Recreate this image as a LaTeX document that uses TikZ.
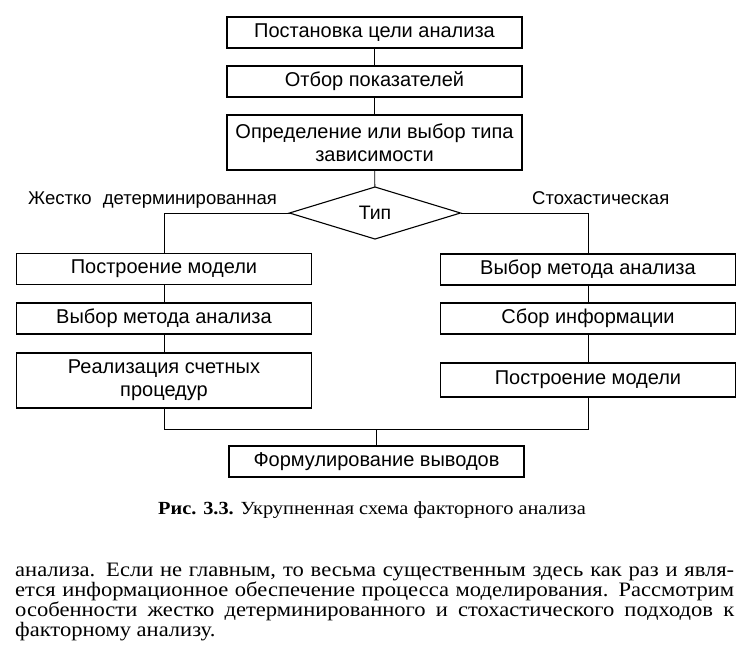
\documentclass[tikz,border=0pt]{standalone}
\usepackage{fontspec}
\setmainfont{Liberation Sans}
\newfontfamily\bookfont{Liberation Serif}[FakeStretch=1.1]
\usetikzlibrary{shapes.geometric}

\newcommand{\fullline}[1]{\hbox to 719pt{#1}}

\begin{document}
\begin{tikzpicture}[x=1pt,y=-1pt,
  block/.style={rectangle,draw=black,line width=1.2pt,align=center,
    outer sep=0,inner sep=0,minimum width=295pt,
    minimum height=31pt,
    font=\fontsize{20}{23}\selectfont},
  decision/.style={diamond,draw=black,line width=1.1pt,
    outer sep=0,inner sep=0,minimum width=171pt,
    minimum height=52pt,
    font=\fontsize{19.5}{22}\selectfont},
  branch/.style={anchor=base west,inner sep=0,
    font=\fontsize{18.5}{21}\selectfont},
  link/.style={line width=0.9pt}]
  \useasboundingbox (0,0) rectangle (752,665);
  \node[block] (goal) at (374.5,32.5) {Постановка цели анализа};
  \node[block] (sel) at (374.5,81.5) {Отбор показателей};
  \node[block,minimum height=55pt] (dep) at (374.5,142.5) {Определение или выбор типа\\зависимости};
  \node[decision] (type) at (375,213) {Тип};
  \node[branch] (det) at (28,204) {Жестко\hspace{6pt} детерминированная};
  \node[branch] (stoch) at (532,204) {Стохастическая};
  \node[block] (L1) at (164,269) {Построение модели};
  \node[block] (L2) at (164,318.5) {Выбор метода анализа};
  \node[block,minimum height=55pt] (L3) at (164,380.5) {Реализация счетных\\процедур};
  \node[block] (R1) at (588,269.5) {Выбор метода анализа};
  \node[block] (R2) at (588,318.5) {Сбор информации};
  \node[block,minimum height=34pt] (R3) at (588,380) {Построение модели};
  \node[block] (concl) at (376.5,461.5) {Формулирование выводов};
  \coordinate (jl) at (164,429.5);
  \coordinate (jr) at (588,429.5);
  \coordinate (j) at (376.5,429.5);
  \draw[link] (goal) -- (sel);
  \draw[link] (sel) -- (dep);
  \draw[link] (dep) -- (type);
  \draw[link] (type.west) -| (L1.north);
  \draw[link] (type.east) -| (R1.north);
  \draw[link] (L1) -- (L2);
  \draw[link] (L2) -- (L3);
  \draw[link] (R1) -- (R2);
  \draw[link] (R2) -- (R3);
  \draw[link] (L3) -- (jl);
  \draw[link] (R3) -- (jr);
  \draw[link] (jl) -- (jr);
  \draw[link] (j) -- (concl);
  % caption and text below the figure
  \node[anchor=base,inner sep=0,font=\bookfont\fontsize{18.5}{21}\selectfont] (caption) at (372,514)
    {\textbf{Рис. 3.3.} Укрупненная схема факторного анализа};
  \node[anchor=base west,inner sep=0,font=\bookfont\fontsize{20.5}{17.67}\selectfont] (text) at (15,636)
    {\vbox{\fullline{анализа. Если не главным, то весьма существенным здесь как раз и явля-}
      \fullline{ется информационное обеспечение процесса моделирования. Рассмотрим}
      \fullline{особенности жестко детерминированного и стохастического подходов к}
      \hbox{факторному анализу.}}};
\end{tikzpicture}
\end{document}
